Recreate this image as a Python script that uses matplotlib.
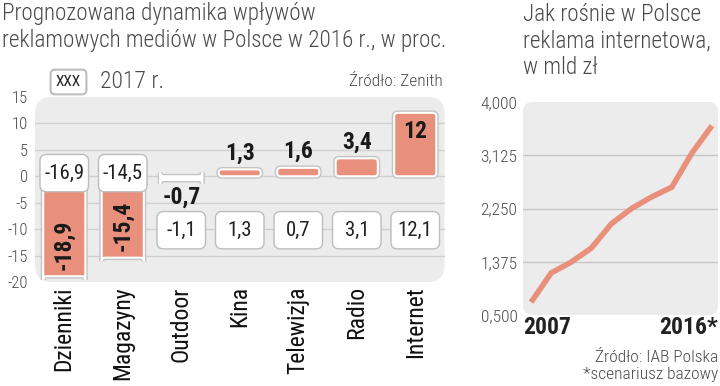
import matplotlib
matplotlib.use("Agg")
import matplotlib.pyplot as plt
from matplotlib.patches import FancyBboxPatch
import matplotlib.patheffects as pe

plt.rcParams['font.family'] = ['Roboto Condensed', 'DejaVu Sans']

# Left chart data
media = ["Dzienniki", "Magazyny", "Outdoor", "Kina", "Telewizja", "Radio", "Internet"]
dyn_2016 = [-18.9, -15.4, -0.7, 1.3, 1.6, 3.4, 12.0]
dyn_2016_labels = ["-18,9", "-15,4", "-0,7", "1,3", "1,6", "3,4", "12"]
dyn_2017 = [-16.9, -14.5, -1.1, 1.3, 0.7, 3.1, 12.1]
dyn_2017_labels = ["-16,9", "-14,5", "-1,1", "1,3", "0,7", "3,1", "12,1"]
y_ticks = [15, 10, 5, 0, -5, -10, -15, -20]

# Right chart data
years = list(range(2007, 2017))
internet_spend = [0.71, 1.19, 1.37, 1.60, 2.00, 2.25, 2.44, 2.60, 3.16, 3.61]
spend_ticks = [0.5, 1.375, 2.25, 3.125, 4.0]
spend_tick_labels = ["0,500", "1,375", "2,250", "3,125", "4,000"]

SALMON = "#E8907B"
GRAY_TXT = "#4a4a4a"
BG = "#ECECEC"

W, H = 720, 386
fig = plt.figure(figsize=(7.2, 3.86), dpi=100)


def px_axes(x0, y0, x1, y1):
    return fig.add_axes([x0 / W, 1 - y1 / H, (x1 - x0) / W, (y1 - y0) / H])


# ---------------- left chart
ax = px_axes(35, 97, 444.5, 282)
ax.set_xlim(-0.5, 6.5)
ax.set_ylim(-20, 15)
ax.patch.set_visible(False)
for s in ax.spines.values():
    s.set_visible(False)

# px per data unit, used to keep rounded corners round
asp = (409.5 / 7) / (185 / 35)

ax.add_patch(FancyBboxPatch((0, 0), 1, 1, boxstyle="round,pad=0,rounding_size=0.04",
                            transform=ax.transAxes, facecolor=BG, edgecolor="none",
                            mutation_aspect=409.5 / 185, zorder=0))
for t in y_ticks[1:-1]:
    ax.axhline(t, color="#cfcfcf", lw=1, zorder=1)

bars = ax.bar(range(len(media)), dyn_2016, width=0.72)
for i, b in enumerate(bars):
    x, y, w, h = b.get_x(), b.get_y(), b.get_width(), b.get_height()
    b.remove()
    fc = "white" if abs(dyn_2016[i]) < 1 else SALMON
    p = FancyBboxPatch((x, y), w, h, boxstyle="round,pad=0,rounding_size=0.06",
                       mutation_aspect=asp, facecolor=fc, edgecolor="white", lw=1.5,
                       zorder=2)
    p.set_path_effects([pe.Stroke(linewidth=3.5, foreground="#c4c4c4"), pe.Normal()])
    ax.add_patch(p)

# value labels 2016
for i, v in enumerate(dyn_2016):
    lab = dyn_2016_labels[i]
    kw = dict(fontsize=17, fontweight="bold", color="#1a1a1a", ha="center", zorder=4)
    if v < -5:
        ax.text(i, v + 6, lab, rotation=90, va="center", **kw)
    elif v < 0:
        ax.text(i, v - 3.3, lab, va="center", **kw)
    elif v > 10:
        ax.text(i, v - 3.6, lab, va="center", **kw)
    else:
        ax.text(i, v + 1.9, lab, va="baseline", **kw)

# 2017 boxes
bw, bh = 0.77, 6.4
for i, v in enumerate(dyn_2017):
    yc = 0.6 if dyn_2016[i] < -5 else -10.2
    p = FancyBboxPatch((i - bw / 2, yc - bh / 2), bw, bh,
                       boxstyle="round,pad=0,rounding_size=0.08", mutation_aspect=asp,
                       facecolor="white", edgecolor="white", lw=1.5, zorder=3)
    p.set_path_effects([pe.Stroke(linewidth=3.5, foreground="#bdbdbd"), pe.Normal()])
    ax.add_patch(p)
    ax.text(i, yc, dyn_2017_labels[i], ha="center", va="center", fontsize=15,
            color="#222222", zorder=4)

ax.set_yticks(y_ticks)
ax.set_yticklabels([str(t) for t in y_ticks], fontsize=12, color=GRAY_TXT, fontweight="light")
ax.tick_params(axis="y", length=0, pad=5)
ax.set_xticks(range(len(media)))
ax.set_xticklabels(media, rotation=90, fontsize=17, color="#111111", va="top")
ax.tick_params(axis="x", length=0, pad=3)

# legend
lx = 68.5
fig.text(lx / W, 1 - 82 / H, "XXX", fontsize=11, ha="center", va="center", color="#222",
         bbox=dict(boxstyle="round,pad=0.35,rounding_size=0.3", facecolor="white",
                   edgecolor="#bdbdbd", lw=1.5))
fig.text(100 / W, 1 - 82 / H, "2017 r.", fontsize=17, ha="left", va="center",
         color=GRAY_TXT, fontweight="light")
fig.text(443 / W, 1 - 82 / H, "Źródło: Zenith", fontsize=12.5, ha="right", va="center",
         color=GRAY_TXT, fontweight="light")

fig.text(2 / W, 1 - 2 / H, "Prognozowana dynamika wpływów\nreklamowych mediów w Polsce w 2016 r., w proc.",
         fontsize=16.7, ha="left", va="top", color=GRAY_TXT, linespacing=1.2,
         fontweight="light")

# ---------------- right chart
ax2 = px_axes(523, 102, 718, 315)
ax2.set_xlim(2006.6, 2016.3)
ax2.set_ylim(0.5, 4.0)
ax2.patch.set_visible(False)
for s in ax2.spines.values():
    s.set_visible(False)
ax2.add_patch(FancyBboxPatch((0, 0), 1, 1, boxstyle="round,pad=0,rounding_size=0.05",
                             transform=ax2.transAxes, facecolor=BG, edgecolor="none",
                             mutation_aspect=195 / 213, zorder=0))
for t in spend_ticks[1:-1]:
    ax2.axhline(t, color="#c8c8c8", lw=1, zorder=1)
ax2.plot(years, internet_spend, color=SALMON, lw=4, solid_capstyle="butt",
         solid_joinstyle="miter", zorder=2)
ax2.set_yticks(spend_ticks)
ax2.set_yticklabels(spend_tick_labels, fontsize=12.5, color=GRAY_TXT, fontweight="light")
ax2.tick_params(axis="y", length=0, pad=4)
ax2.set_xticks([])

fig.text(523 / W, 1 - 328 / H, "2007", fontsize=17, fontweight="bold", ha="left",
         va="center", color="#222")
fig.text(718 / W, 1 - 328 / H, "2016*", fontsize=17, fontweight="bold", ha="right",
         va="center", color="#222")
fig.text(718 / W, 1 - 357 / H, "Źródło: IAB Polska", fontsize=12.5, ha="right",
         va="center", color=GRAY_TXT, fontweight="light")
fig.text(718 / W, 1 - 375 / H, "*scenariusz bazowy", fontsize=12.5, ha="right",
         va="center", color=GRAY_TXT, fontweight="light")
fig.text(523 / W, 1 - 3 / H, "Jak rośnie w Polsce\nreklama internetowa,\nw mld zł",
         fontsize=16.7, ha="left", va="top", color=GRAY_TXT, linespacing=1.2,
         fontweight="light")

fig.savefig("out.png", dpi=100)
